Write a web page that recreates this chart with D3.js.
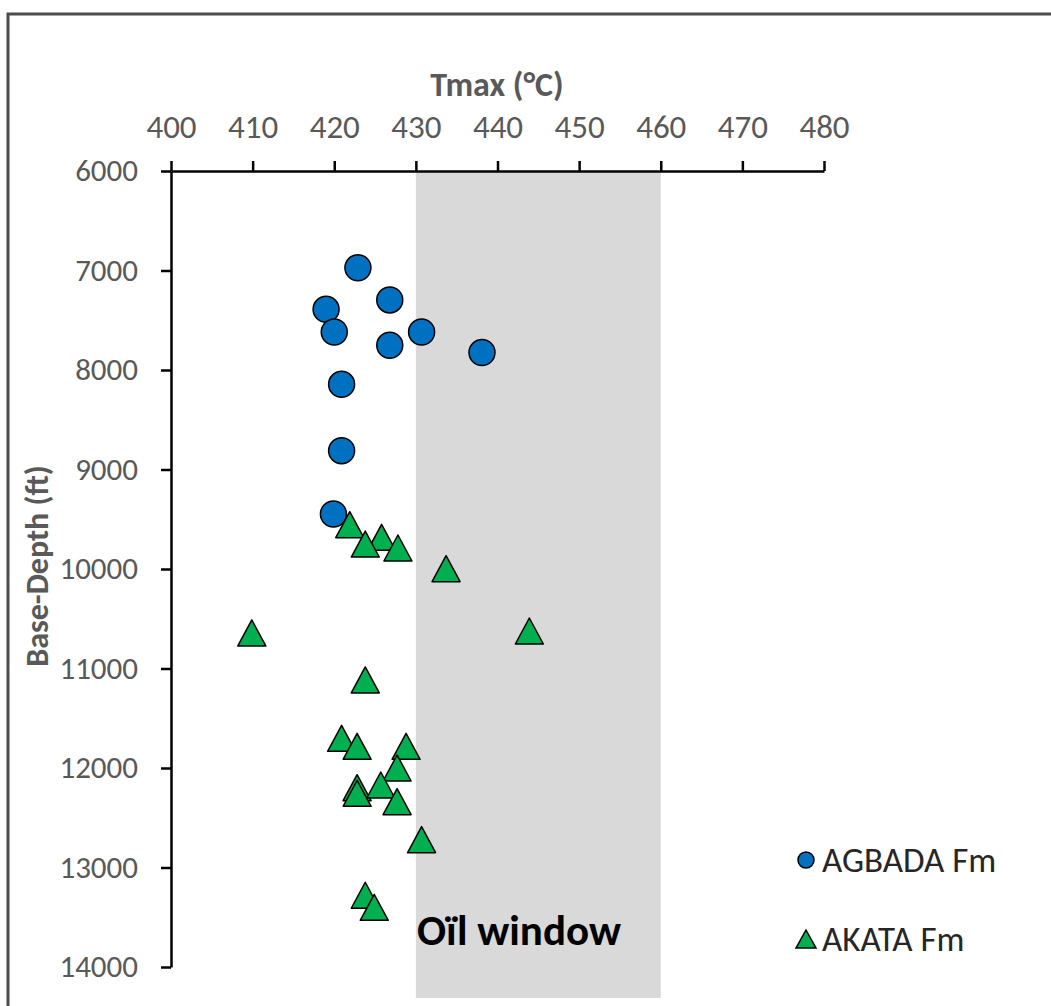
<!DOCTYPE html>
<html>
<head>
<meta charset="utf-8">
<script src="https://cdn.jsdelivr.net/npm/d3@7"></script>
<style>
  body { margin: 0; background: #fff; }
  text { font-family: Carlito, Calibri, "Liberation Sans", Arial, sans-serif; }
</style>
</head>
<body>
<script>
// data
var xTicks = [400, 410, 420, 430, 440, 450, 460, 470, 480];
var yTicks = [6000, 7000, 8000, 9000, 10000, 11000, 12000, 13000, 14000];
var oilWindow = [430, 460];

var agbadaTmax  = [422.9, 426.8, 419.0, 420.0, 430.7, 426.8, 438.1, 420.9, 420.9, 419.9];
var agbadaDepth = [6972, 7296, 7390, 7618, 7618, 7752, 7824, 8144, 8811, 9447];

var akataTmax  = [421.9, 425.8, 423.8, 427.8, 433.7, 409.9, 443.9, 423.8, 420.9, 422.8,
                  428.8, 427.7, 422.8, 422.8, 425.7, 427.7, 430.7, 423.8, 424.9];
var akataDepth = [9555, 9682, 9749, 9789, 9997, 10643, 10623, 11115, 11702, 11782,
                  11782, 12000, 12198, 12254, 12171, 12338, 12720, 13279, 13400];

var width  = 1051,
    height = 1006;

var x = d3.scaleLinear().domain([400, 480]).range([171, 824]);
var y = d3.scaleLinear().domain([6000, 14000]).range([171, 967]);

// triangle centred on its bounding box
function triPath(w, h) {
  return "M0," + (-h / 2) + "L" + (w / 2) + "," + (h / 2) + "L" + (-w / 2) + "," + (h / 2) + "Z";
}

var svg = d3.select("body").append("svg")
    .attr("width", width)
    .attr("height", height);

// outer frame (cut off on right / bottom like the picture)
svg.append("rect")
    .attr("x", 8).attr("y", 14)
    .attr("width", 1100).attr("height", 1100)
    .attr("fill", "#fff")
    .attr("stroke", "#4d4d4d")
    .attr("stroke-width", 3);

// oil window band
svg.append("rect")
    .attr("x", x(oilWindow[0]))
    .attr("y", y(6000))
    .attr("width", x(oilWindow[1]) - x(oilWindow[0]))
    .attr("height", 998 - y(6000))
    .attr("fill", "#d9d9d9");

svg.append("text")
    .attr("x", x(oilWindow[0]) + 1)
    .attr("y", 945)
    .attr("font-size", 43)
    .attr("font-weight", "bold")
    .attr("fill", "#000")
    .text("Oïl window");

// axes
var xAxis = svg.append("g")
    .attr("transform", "translate(0," + y(6000) + ")")
    .call(d3.axisTop(x).tickValues(xTicks).tickSize(10).tickSizeOuter(0).tickPadding(23));

var yAxis = svg.append("g")
    .attr("transform", "translate(" + x(400) + ",0)")
    .call(d3.axisLeft(y).tickValues(yTicks).tickFormat(d3.format("d"))
      .tickSize(10).tickSizeOuter(0).tickPadding(23));

[xAxis, yAxis].forEach(function(a) {
  a.select(".domain").attr("stroke", "#000").attr("stroke-width", 2.5);
  a.selectAll(".tick line").attr("stroke", "#000").attr("stroke-width", 2.5);
  a.selectAll(".tick text")
    .attr("fill", "#595959")
    .style("font-family", "Carlito, Calibri, 'Liberation Sans', Arial, sans-serif");
});
xAxis.selectAll(".tick text").attr("font-size", 33);
yAxis.selectAll(".tick text").attr("font-size", 31);

// axis titles
svg.append("text")
    .attr("x", 497).attr("y", 96)
    .attr("text-anchor", "middle")
    .attr("font-size", 34)
    .attr("font-weight", "bold")
    .attr("fill", "#595959")
    .text("Tmax (°C)");

svg.append("text")
    .attr("transform", "translate(48,566) rotate(-90)")
    .attr("text-anchor", "middle")
    .attr("font-size", 32)
    .attr("font-weight", "bold")
    .attr("fill", "#595959")
    .text("Base-Depth (ft)");

// AGBADA Fm circles
svg.append("g").selectAll("circle")
    .data(d3.range(agbadaTmax.length))
    .enter().append("circle")
    .attr("cx", function(i) { return x(agbadaTmax[i]); })
    .attr("cy", function(i) { return y(agbadaDepth[i]); })
    .attr("r", 13)
    .attr("fill", "#0070c0")
    .attr("stroke", "#000")
    .attr("stroke-width", 1.5);

// AKATA Fm triangles
svg.append("g").selectAll("path")
    .data(d3.range(akataTmax.length))
    .enter().append("path")
    .attr("d", triPath(28, 26))
    .attr("transform", function(i) {
      return "translate(" + x(akataTmax[i]) + "," + y(akataDepth[i]) + ")";
    })
    .attr("fill", "#00b050")
    .attr("stroke", "#000")
    .attr("stroke-width", 1.5)
    .attr("stroke-linejoin", "round");

// legend
var legend = svg.append("g");
legend.append("circle")
    .attr("cx", 806).attr("cy", 860).attr("r", 8)
    .attr("fill", "#0070c0").attr("stroke", "#000").attr("stroke-width", 1.5);
legend.append("text")
    .attr("x", 822).attr("y", 872)
    .attr("font-size", 35).attr("fill", "#262626")
    .text("AGBADA Fm");
legend.append("path")
    .attr("d", triPath(20, 18))
    .attr("transform", "translate(806,939)")
    .attr("fill", "#00b050").attr("stroke", "#000").attr("stroke-width", 1.5);
legend.append("text")
    .attr("x", 822).attr("y", 951)
    .attr("font-size", 35).attr("fill", "#262626")
    .text("AKATA Fm");
</script>
</body>
</html>
